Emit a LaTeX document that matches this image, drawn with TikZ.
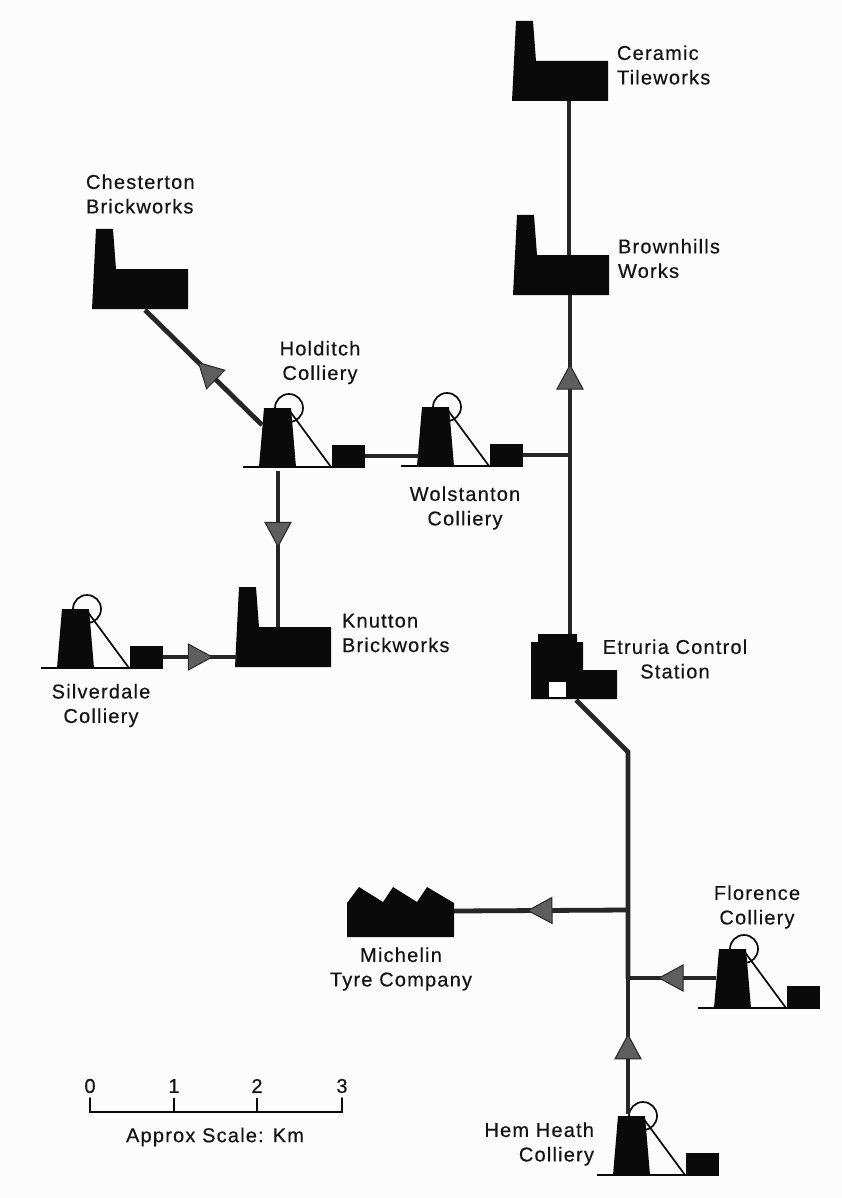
\documentclass[tikz,border=0pt]{standalone}
\usepackage{fontspec}
\setmainfont[LetterSpace=6,FakeBold=0.35]{Liberation Sans}
\usetikzlibrary{decorations.markings,calc}
\definecolor{ink}{HTML}{0A0A0A}
\definecolor{pipe}{HTML}{262626}
\definecolor{tri}{HTML}{5E5E5E}
\tikzset{
  x=1pt,y=-1pt,
  solid shape/.style={fill=ink,draw=none},
  pipeline/.style={draw=pipe,line width=4.8pt},
  flow arrow/.style={postaction={decorate},decoration={markings,mark=at position #1 with {
    \filldraw[fill=tri,draw=pipe,line width=1pt] (13,0)--(-11,13)--(-11,-13)--cycle;}}},
  thin line/.style={draw=ink,line width=1.7pt},
  label text/.style={font=\fontsize{20}{24.5}\selectfont,text=black!92,inner sep=0pt,outer sep=0pt,align=#1},
  label text/.default=center,
  hidden anchor/.style={inner sep=0pt,outer sep=0pt,draw=none},
  colliery/.pic={
    \draw[thin line,fill=none] (46,-59) circle (14);
    \path[solid shape] (21,-59)--(48,-59)--(53,0)--(16,0)--cycle;
    \draw[thin line] (46,-57)--(88,0);
    \draw[thin line] (0,0)--(122,0);
    \node[solid shape,hidden anchor,minimum width=33pt,minimum height=22pt,anchor=south west] (-box) at (89,0) {};
    \coordinate (-west) at (18,-30);
    \coordinate (-foot) at (35,0);
  },
  factory/.pic={
    \path[solid shape] (0,0)--(4,-80)--(21,-80)--(24,-40)--(96,-40)--(96,0)--cycle;
    \coordinate (-base) at (57,0);
    \coordinate (-roof) at (57,-40);
    \coordinate (-west) at (2,-20);
  },
}
\begin{document}
\begin{tikzpicture}
\useasboundingbox (0,0) rectangle (842,1198);
\fill[white!99!black] (0,0) rectangle (842,1198);

% Buildings
\pic (cer) at (512,101) {factory};
\pic (bro) at (513,295) {factory};
\pic (che) at (92,309) {factory};
\pic (knu) at (235,667) {factory};
\pic (hol) at (243,467) {colliery};
\pic (wol) at (401,466) {colliery};
\pic (sil) at (41,668) {colliery};
\pic (flo) at (698,1008) {colliery};
\pic (hem) at (597,1175) {colliery};

% Etruria control station
\path[solid shape] (531,699)--(531,642)--(538,642)--(538,634)--(577,634)--(577,642)--(583,642)--(583,670)--(617,670)--(617,699)--cycle;
\node[fill=white,hidden anchor,minimum width=17pt,minimum height=15pt] (window) at (557.5,689.5) {};
\coordinate (etrTop) at (570,634);
\coordinate (etrBase) at (576,700);

% Michelin
\path[solid shape] (347,937)--(347,903)--(359,887)--(383,902)--(393,887)--(417,902)--(427,887)--(454,903)--(454,937)--cycle;
\coordinate (micEast) at (454,911);

% Junctions
\coordinate (jWol) at (570,455);
\coordinate (bend) at (628,752);
\coordinate (jMic) at (628,910);
\coordinate (jFlo) at (628,979);
\coordinate (hemTop) at (628,1114);
\coordinate (holNW) at (262,425);
\coordinate (cheBase) at (145,310);
\coordinate (holMid) at (278,471);
\coordinate (knuRoof) at (278,627);

% Connectors
\draw[pipeline] (cer-base) -- (cer-base |- bro-roof);
\draw[pipeline,flow arrow=0.755] (etrTop) -- (etrTop |- bro-base);
\draw[pipeline] (wol-box.east) -- (jWol);
\draw[pipeline] (hol-box.east) -- (wol-west |- hol-box.east);
\draw[pipeline,flow arrow=0.463] (holNW) -- (cheBase);
\draw[pipeline,flow arrow=0.40] (holMid) -- (knuRoof);
\draw[pipeline,flow arrow=0.49] (sil-box.east) -- (knu-west |- sil-box.east);
\draw[pipeline] (etrBase) -- (bend) -- (jMic) -- (jFlo);
\draw[pipeline,flow arrow=0.5] (jMic) -- (micEast);
\draw[pipeline,flow arrow=0.5] (flo-west) -- (flo-west -| jFlo);
\draw[pipeline,flow arrow=0.49] (hemTop) -- (jFlo);

% Labels
\node[label text=left,anchor=west] (lCer) at (617,65) {Ceramic\\Tileworks};
\node[label text=left,anchor=west] (lBro) at (618,258.5) {Brownhills\\Works};
\node[label text=left,anchor=west] (lChe) at (86,194) {Chesterton\\Brickworks};
\node[label text] (lHol) at (320,362.5) {Holditch\\Colliery};
\node[label text] (lWol) at (465,508) {Wolstanton\\Colliery};
\node[label text=left,anchor=west] (lKnu) at (342,633) {Knutton\\Brickworks};
\node[label text] (lSil) at (101,705.5) {Silverdale\\Colliery};
\node[label text] (lEtr) at (675,659) {Etruria Control\\Station};
\node[label text] (lMic) at (401,969) {Michelin\\Tyre Company};
\node[label text] (lFlo) at (757,907) {Florence\\Colliery};
\node[label text=right,anchor=east] (lHem) at (594,1144) {Hem Heath\\Colliery};

% Scale
\coordinate (s0) at (90,1112);
\coordinate (s1) at (174,1112);
\coordinate (s2) at (257,1112);
\coordinate (s3) at (342,1112);
\draw[thin line,line cap=round,line join=miter] (90,1098) -- (s0) -- (s3) -- (342,1098);
\draw[thin line] (s1) -- ++(0,-14);
\draw[thin line] (s2) -- ++(0,-14);
\node[label text] (n0) at (90,1086) {0};
\node[label text] (n1) at (174,1086) {1};
\node[label text] (n2) at (257,1086) {2};
\node[label text] (n3) at (342,1086) {3};
\node[label text] (scaleTitle) at (215,1137) {Approx Scale: Km};
\end{tikzpicture}
\end{document}
